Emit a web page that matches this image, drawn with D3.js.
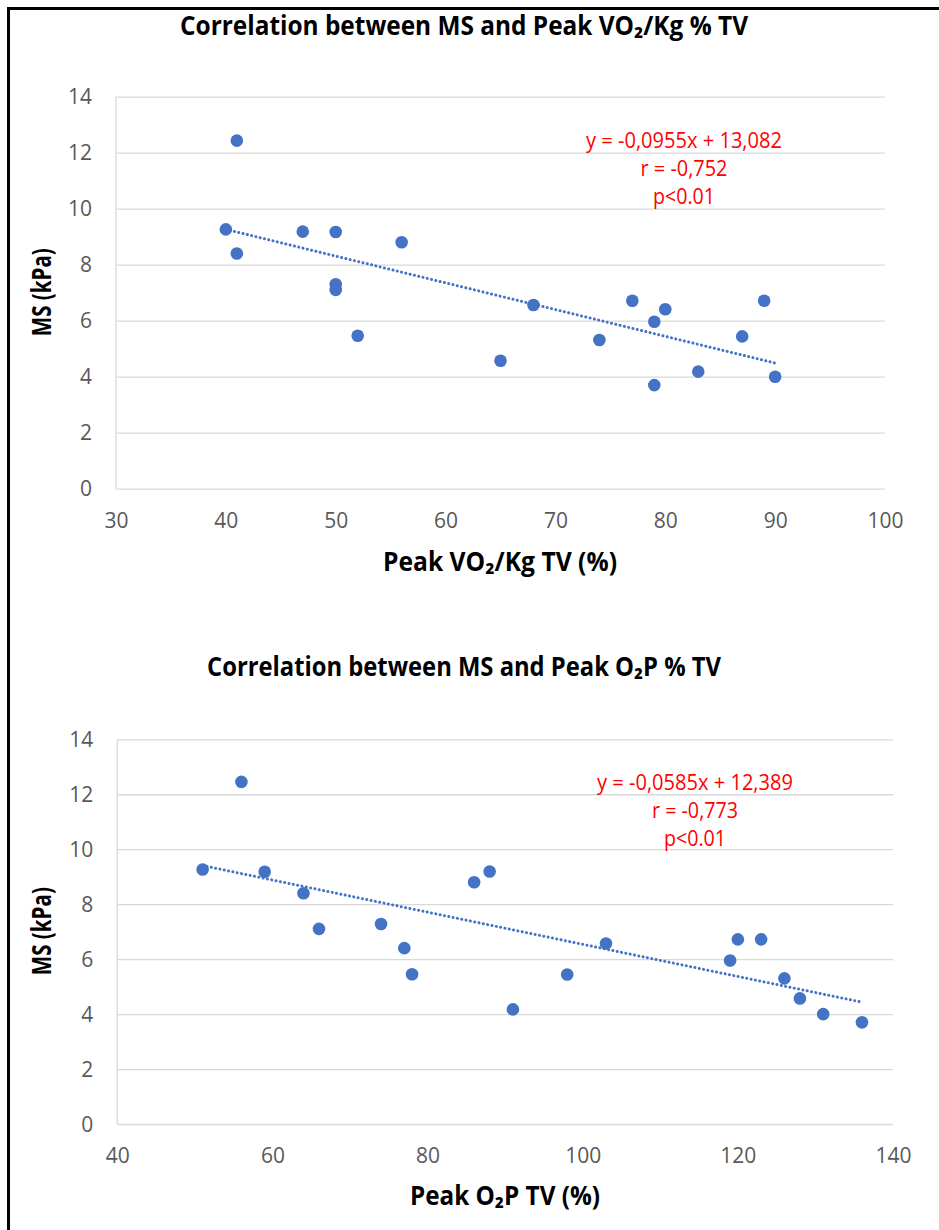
<!DOCTYPE html>
<html>
<head>
<meta charset="utf-8">
<script src="https://cdn.jsdelivr.net/npm/d3@7"></script>
<style>
  html, body { margin: 0; padding: 0; background: #fff; }
  svg { display: block; }
</style>
</head>
<body>
<svg id="fig" width="939" height="1230"></svg>
<script>
// ---- data: peak VO2/kg (% of theoretical value) vs muscle stiffness ----
const vo2Pct = [41, 40, 41, 47, 50, 56, 50, 50, 52, 65, 68, 74, 77, 79, 80, 79, 83, 87, 89, 90];
const vo2MS  = [12.43, 9.26, 8.4, 9.18, 9.17, 8.8, 7.3, 7.1, 5.46, 4.57, 6.56, 5.31, 6.71, 5.96, 6.41, 3.7, 4.18, 5.44, 6.71, 4.0];
const vo2Fit = [-0.0955, 13.082];          // slope, intercept
const vo2Stats = ["y = -0,0955x + 13,082", "r = -0,752", "p<0.01"];
const vo2XTicks = [30, 40, 50, 60, 70, 80, 90, 100];

// ---- data: peak O2 pulse (% of theoretical value) vs muscle stiffness ----
const o2pPct = [56, 51, 59, 64, 66, 74, 77, 78, 86, 88, 91, 98, 103, 119, 120, 123, 126, 128, 131, 136];
const o2pMS  = [12.45, 9.26, 9.18, 8.4, 7.1, 7.28, 6.4, 5.45, 8.8, 9.19, 4.17, 5.44, 6.57, 5.95, 6.72, 6.72, 5.3, 4.57, 4.0, 3.7];
const o2pFit = [-0.0585, 12.389];
const o2pStats = ["y = -0,0585x + 12,389", "r = -0,773", "p<0.01"];
const o2pXTicks = [40, 60, 80, 100, 120, 140];

const msTicks = [0, 2, 4, 6, 8, 10, 12, 14];

const BLUE = "#4472C4";
const GRID = "#D9D9D9";
const TICK = "#595959";
const FONT = "'Open Sans', 'DejaVu Sans', 'Liberation Sans', sans-serif";

const svg = d3.select("#fig");
svg.append("rect").attr("width", 939).attr("height", 1230).attr("fill", "#fff");

// frame (top and left edges)
svg.append("path")
  .attr("d", "M8.5,1230 L8.5,8.5 L939,8.5")
  .attr("fill", "none").attr("stroke", "#000").attr("stroke-width", 3);

function label(g, str, x, y, size, len, opts = {}) {
  const t = g.append("text")
    .attr("x", x).attr("y", y)
    .attr("text-anchor", "middle")
    .attr("font-family", FONT)
    .attr("font-weight", opts.weight || "bold")
    .attr("font-size", size)
    .attr("fill", opts.fill || "#000")
    .text(str);
  if (opts.rotate) t.attr("transform", `rotate(${opts.rotate},${x},${y})`);
  if (len) t.attr("textLength", len).attr("lengthAdjust", "spacingAndGlyphs");
  return t;
}

function scatter(cfg) {
  const { xs, ys, fit, stats, xTicks, box, xDomain, title, xTitle, layout } = cfg;
  const x = d3.scaleLinear().domain(xDomain).range([box.left, box.right]);
  const y = d3.scaleLinear().domain([0, 14]).range([box.bottom, box.top]);
  const g = svg.append("g");

  // horizontal gridlines
  g.append("g")
    .attr("transform", `translate(${box.left},0)`)
    .call(d3.axisLeft(y).tickValues(msTicks).tickSize(-(box.right - box.left)).tickFormat(""))
    .call(a => a.select(".domain").remove())
    .call(a => a.selectAll("line").attr("stroke", GRID).attr("stroke-width", 1.3));

  // vertical axis line
  g.append("line")
    .attr("x1", box.left).attr("x2", box.left)
    .attr("y1", box.top).attr("y2", box.bottom)
    .attr("stroke", GRID).attr("stroke-width", 1.3);

  // y tick labels
  g.append("g")
    .attr("transform", `translate(${box.left - 6},0)`)
    .call(d3.axisLeft(y).tickValues(msTicks).tickSize(0).tickPadding(0))
    .call(a => a.select(".domain").remove())
    .call(a => a.selectAll("text")
      .attr("font-family", FONT).attr("font-size", 21).attr("fill", TICK)
      .attr("dx", -18).attr("dy", "0.34em"));

  // x tick labels
  g.append("g")
    .attr("transform", `translate(0,${box.bottom})`)
    .call(d3.axisBottom(x).tickValues(xTicks).tickSize(0).tickPadding(0))
    .call(a => a.select(".domain").remove())
    .call(a => a.selectAll("text")
      .attr("font-family", FONT).attr("font-size", 21).attr("fill", TICK)
      .attr("dy", 39));

  // linear trend line (round-dotted)
  const x0 = d3.min(xs), x1 = d3.max(xs);
  g.append("line")
    .attr("x1", x(x0)).attr("y1", y(fit[0] * x0 + fit[1]))
    .attr("x2", x(x1)).attr("y2", y(fit[0] * x1 + fit[1]))
    .attr("stroke", BLUE).attr("stroke-width", 3)
    .attr("stroke-linecap", "round")
    .attr("stroke-dasharray", "0.01 4.4");

  // points
  g.append("g").selectAll("circle")
    .data(xs.map((v, i) => [v, ys[i]]))
    .join("circle")
    .attr("cx", d => x(d[0])).attr("cy", d => y(d[1]))
    .attr("r", 6.3).attr("fill", BLUE);

  // regression statistics
  stats.forEach((s, i) => {
    label(g, s, layout.statX, layout.statY + i * 28, 22, layout.statLen[i],
      { weight: "normal", fill: "#FF0000" });
  });

  // titles
  label(g, title, layout.titleX, layout.titleY, 26, layout.titleLen);
  label(g, xTitle, layout.xTitleX, layout.xTitleY, 26, layout.xTitleLen);
  const yMid = (box.top + box.bottom) / 2 - 0.5;
  label(g, "MS (kPa)", 51, yMid, 26, 88, { rotate: -90 });
}

scatter({
  xs: vo2Pct, ys: vo2MS, fit: vo2Fit, stats: vo2Stats, xTicks: vo2XTicks,
  xDomain: [30, 100],
  box: { left: 116, right: 885, top: 96.7, bottom: 488.7 },
  title: "Correlation between MS and Peak VO\u2082/Kg % TV",
  xTitle: "Peak VO\u2082/Kg TV (%)",
  layout: {
    titleX: 464, titleY: 35, titleLen: 568,
    xTitleX: 500, xTitleY: 571, xTitleLen: 234,
    statX: 684, statY: 148, statLen: [196, 87, 62]
  }
});

scatter({
  xs: o2pPct, ys: o2pMS, fit: o2pFit, stats: o2pStats, xTicks: o2pXTicks,
  xDomain: [40, 140],
  box: { left: 117.3, right: 893, top: 739.3, bottom: 1124 },
  title: "Correlation between MS and Peak O\u2082P % TV",
  xTitle: "Peak O\u2082P TV (%)",
  layout: {
    titleX: 464, titleY: 676, titleLen: 514,
    xTitleX: 505, xTitleY: 1205, xTitleLen: 190,
    statX: 695, statY: 790, statLen: [196, 86, 62]
  }
});
</script>
</body>
</html>
